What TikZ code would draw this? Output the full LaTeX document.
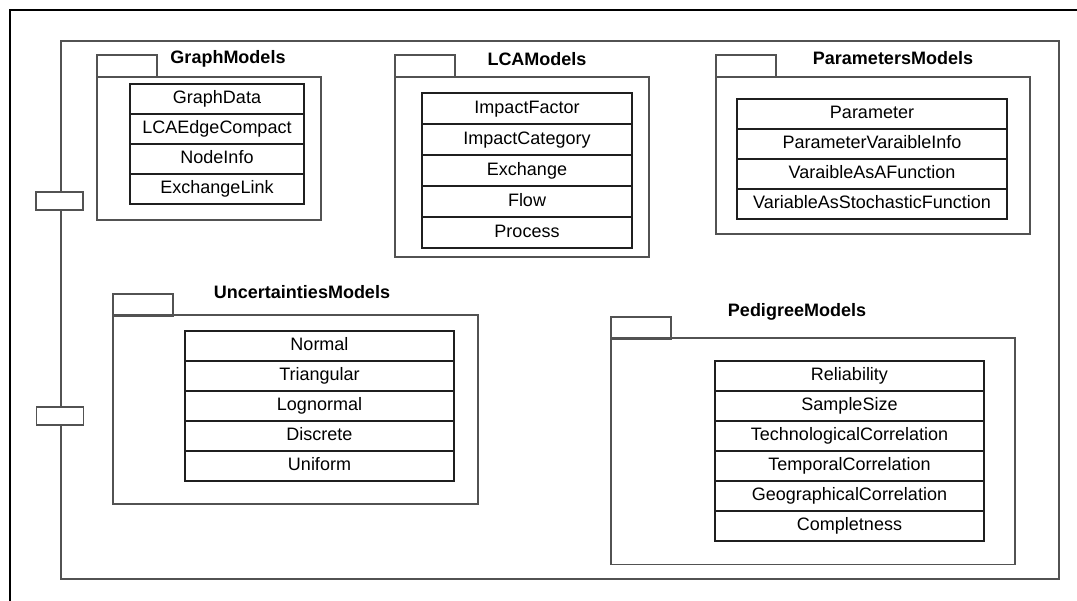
\documentclass[tikz,border=0pt]{standalone}
\usepackage{fontspec}
\setmainfont{Liberation Sans}
\begin{document}
\begin{tikzpicture}[x=1pt,y=-1pt,
  pkgline/.style={draw=black!68,line width=1.6pt},
  pkgbody/.style={pkgline,rectangle,inner sep=0pt,anchor=north west},
  pkgtab/.style={pkgline,rectangle,inner sep=0pt,anchor=north west,minimum width=60,minimum height=22},
  pkgtitle/.style={anchor=base,inner sep=0pt,font=\fontsize{18}{20}\selectfont\bfseries},
  classrow/.style={draw=black!88,line width=1.6pt,rectangle,inner sep=0pt,minimum height=30,
    text height=12.8pt,text depth=3.6pt,font=\fontsize{18}{20}\selectfont},
  port/.style={draw=black!68,line width=1.6pt,fill=white,rectangle,inner sep=0pt,
    minimum width=47,minimum height=18},
  frameline/.style={draw=black,line width=2.4pt}]
\useasboundingbox (0,0) rectangle (1077,601);

% outer frame (top and left edges)
\coordinate (fr) at (1078,10);
\coordinate (fc) at (10,10);
\coordinate (fb) at (10,602);
\draw[frameline] (fr) -- (fc) -- (fb);

% component
\node[pkgbody,minimum width=998,minimum height=538] (comp) at (60,40) {};
\node[port] (p1) at (59.5,201) {};
\node[port] (p2) at (60,416) {};

% GraphModels
\node[pkgtab] (gmt) at (96,54) {};
\node[pkgbody,minimum width=224,minimum height=143] (gm) at (96,76) {};
\node[pkgtitle] (gmn) at (228,63.5) {GraphModels};
\begin{scope}[every node/.style={classrow,minimum width=174}]
  \node (g1) at (217,99) {GraphData};
  \node (g2) at (217,129) {LCAEdgeCompact};
  \node (g3) at (217,159) {NodeInfo};
  \node (g4) at (217,189) {ExchangeLink};
\end{scope}

% LCAModels
\node[pkgtab] (lmt) at (394,54) {};
\node[pkgbody,minimum width=254,minimum height=180] (lm) at (394,76) {};
\node[pkgtitle] (lmn) at (537,66) {LCAModels};
\begin{scope}[every node/.style={classrow,minimum width=210,minimum height=31}]
  \node (l1) at (527,108.5) {ImpactFactor};
  \node (l2) at (527,139.5) {ImpactCategory};
  \node (l3) at (527,170.5) {Exchange};
  \node (l4) at (527,201.5) {Flow};
  \node (l5) at (527,232.5) {Process};
\end{scope}

% ParametersModels
\node[pkgtab] (pmt) at (715,54) {};
\node[pkgbody,minimum width=314,minimum height=157] (pm) at (715,76) {};
\node[pkgtitle] (pmn) at (893,65) {ParametersModels};
\begin{scope}[every node/.style={classrow,minimum width=270}]
  \node (q1) at (872,114) {Parameter};
  \node (q2) at (872,144) {ParameterVaraibleInfo};
  \node (q3) at (872,174) {VaraibleAsAFunction};
  \node (q4) at (872,204) {VariableAsStochasticFunction};
\end{scope}

% UncertaintiesModels
\node[pkgtab] (umt) at (112,293.5) {};
\node[pkgbody,minimum width=365,minimum height=189] (um) at (112,314.5) {};
\node[pkgtitle] (umn) at (302,299) {UncertaintiesModels};
\begin{scope}[every node/.style={classrow,minimum width=269}]
  \node (u1) at (319.5,346) {Normal};
  \node (u2) at (319.5,376) {Triangular};
  \node (u3) at (319.5,406) {Lognormal};
  \node (u4) at (319.5,436) {Discrete};
  \node (u5) at (319.5,466) {Uniform};
\end{scope}

% PedigreeModels
\node[pkgtab] (edt) at (610,316) {};
\node[pkgbody,minimum width=404,minimum height=226] (ed) at (610,337.5) {};
\node[pkgtitle] (edn) at (797,316.5) {PedigreeModels};
\begin{scope}[every node/.style={classrow,minimum width=269}]
  \node (e1) at (849.5,376) {Reliability};
  \node (e2) at (849.5,406) {SampleSize};
  \node (e3) at (849.5,436) {TechnologicalCorrelation};
  \node (e4) at (849.5,466) {TemporalCorrelation};
  \node (e5) at (849.5,496) {GeographicalCorrelation};
  \node (e6) at (849.5,526) {Completness};
\end{scope}
\end{tikzpicture}
\end{document}
